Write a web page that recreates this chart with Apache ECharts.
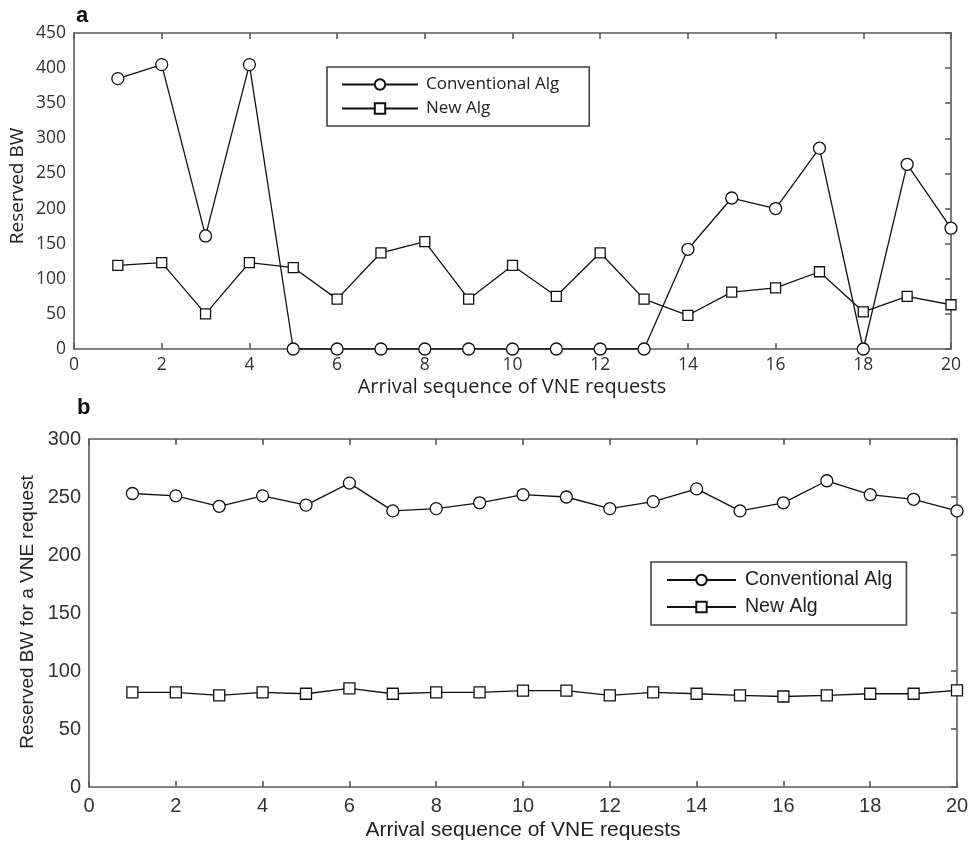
<!DOCTYPE html>
<html>
<head>
<meta charset="utf-8">
<script src="https://cdn.jsdelivr.net/npm/echarts@6/dist/echarts.min.js"></script>
<style>
  html, body { margin: 0; padding: 0; background: #fff; }
  #chart { width: 973px; height: 844px; }
</style>
</head>
<body>
<div id="chart"></div>
<script>
// 数据：到达序列 1..20
var requests = [1, 2, 3, 4, 5, 6, 7, 8, 9, 10, 11, 12, 13, 14, 15, 16, 17, 18, 19, 20];

// (a) Reserved BW
var convA = [385, 405, 161, 405, 0, 0, 0, 0, 0, 0, 0, 0, 0, 142, 215, 200, 286, 0, 263, 172];
var newA  = [119, 123, 50, 123, 116, 71, 137, 153, 71, 119, 75, 137, 71, 48, 81, 87, 110, 53, 75, 63];

// (b) Reserved BW for a VNE request
var convB = [253, 251, 242, 251, 243, 262, 238, 240, 245, 252, 250, 240, 246, 257, 238, 245, 264, 252, 248, 238];
var newB  = [81.6, 81.6, 79, 81.6, 80.4, 85, 80.4, 81.6, 81.6, 83, 83, 79, 81.6, 80.4, 79, 78, 79, 80.4, 80.4, 83.3];

function pairs(ys) {
    return requests.map(function (x, i) { return [x, ys[i]]; });
}

var chart = echarts.init(document.getElementById('chart'));

var axisColor = '#5a5a5a';
var fontA = 'Open Sans';
var fontB = 'Liberation Sans';

// 每个图四条轴围成一个框，刻度朝内
function frameAxes(gridIndex, font, fontSize, yMax, xMargin, yMargin) {
    var lineStyle = { color: axisColor, width: 1.6 };
    var xs = [
        {
            type: 'value', gridIndex: gridIndex, min: 0, max: 20, interval: 2,
            axisLine: { show: true, onZero: false, lineStyle: lineStyle },
            axisTick: { show: true, inside: true, length: 6, lineStyle: lineStyle },
            axisLabel: { fontFamily: font, fontSize: fontSize, color: '#333', margin: xMargin },
            splitLine: { show: false }
        },
        {
            type: 'value', gridIndex: gridIndex, position: 'top', min: 0, max: 20, interval: 2,
            axisLine: { show: true, onZero: false, lineStyle: lineStyle },
            axisTick: { show: true, inside: true, length: 6, lineStyle: lineStyle },
            axisLabel: { show: false },
            splitLine: { show: false }
        }
    ];
    var ys = [
        {
            type: 'value', gridIndex: gridIndex, min: 0, max: yMax, interval: 50,
            axisLine: { show: true, onZero: false, lineStyle: lineStyle },
            axisTick: { show: false },
            axisLabel: { fontFamily: font, fontSize: fontSize, color: '#333', margin: yMargin },
            splitLine: { show: false }
        },
        {
            type: 'value', gridIndex: gridIndex, position: 'right', min: 0, max: yMax, interval: 50,
            axisLine: { show: true, onZero: false, lineStyle: lineStyle },
            axisTick: { show: true, inside: true, length: 6, lineStyle: lineStyle },
            axisLabel: { show: false },
            splitLine: { show: false }
        }
    ];
    return { xs: xs, ys: ys };
}

var axA = frameAxes(0, fontA, 17.5, 450, 7, 8);
var axB = frameAxes(1, fontB, 20, 300, 9, 8);

function lineSeries(name, ys, xIdx, yIdx, symbol, size) {
    return {
        name: name,
        type: 'line',
        xAxisIndex: xIdx,
        yAxisIndex: yIdx,
        data: pairs(ys),
        symbol: symbol,
        symbolSize: size,
        showAllSymbol: true,
        lineStyle: { color: '#111', width: 1.3 },
        itemStyle: { color: '#fff', borderColor: '#111', borderWidth: 1.3 },
        animation: false,
        z: symbol === 'circle' ? 3 : 2
    };
}

var optionData = {
    backgroundColor: '#fff',
    animation: false,
    grid: [
        { left: 74, top: 33, width: 877, height: 316 },
        { left: 89, top: 439, width: 868, height: 348 }
    ],
    xAxis: axA.xs.concat(axB.xs),
    yAxis: axA.ys.concat(axB.ys),
    legend: [
        {
            data: ['Conventional Alg', 'New Alg'],
            orient: 'vertical',
            left: 327, top: 67,
            padding: [9, 30, 9, 14],
            itemGap: 7,
            itemWidth: 76, itemHeight: 13,
            backgroundColor: '#fff',
            borderColor: '#444', borderWidth: 1.6, borderRadius: 0,
            textStyle: { fontFamily: fontA, fontSize: 17, color: '#222', padding: [0, 0, 0, 3] },
            selectedMode: false
        },
        {
            data: ['Conventional Alg ', 'New Alg '],
            orient: 'vertical',
            left: 651, top: 562,
            padding: [8, 14, 8, 15],
            itemGap: 7,
            itemWidth: 69, itemHeight: 13,
            backgroundColor: '#fff',
            borderColor: '#444', borderWidth: 1.6, borderRadius: 0,
            textStyle: { fontFamily: fontB, fontSize: 19.5, color: '#222', padding: [0, 0, 0, 4] },
            formatter: function (n) { return n.trim(); },
            selectedMode: false
        }
    ],
    series: [
        lineSeries('Conventional Alg', convA, 0, 0, 'circle', 12),
        lineSeries('New Alg', newA, 0, 0, 'rect', 10),
        lineSeries('Conventional Alg ', convB, 2, 2, 'circle', 12),
        lineSeries('New Alg ', newB, 2, 2, 'rect', 11)
    ],
    graphic: [
        { type: 'text', left: 76, top: 5, style: { text: 'a', font: 'bold 22px Liberation Sans', fill: '#111' } },
        { type: 'text', left: 77, top: 397, style: { text: 'b', font: 'bold 22px Liberation Sans', fill: '#111' } },
        { type: 'text', x: 512, y: 387, style: { text: 'Arrival sequence of VNE requests', font: '20px Open Sans', fill: '#222', align: 'center', verticalAlign: 'middle' } },
        { type: 'text', x: 523, y: 830, style: { text: 'Arrival sequence of VNE requests', font: '21px Liberation Sans', fill: '#222', align: 'center', verticalAlign: 'middle' } },
        { type: 'text', x: 18, y: 186, rotation: Math.PI / 2, style: { text: 'Reserved BW', font: '19px Open Sans', fill: '#222', align: 'center', verticalAlign: 'middle' } },
        { type: 'text', x: 28, y: 612, rotation: Math.PI / 2, style: { text: 'Reserved BW for a VNE request', font: '19px Liberation Sans', fill: '#222', align: 'center', verticalAlign: 'middle' } }
    ]
};

chart.setOption(optionData);
</script>
</body>
</html>
